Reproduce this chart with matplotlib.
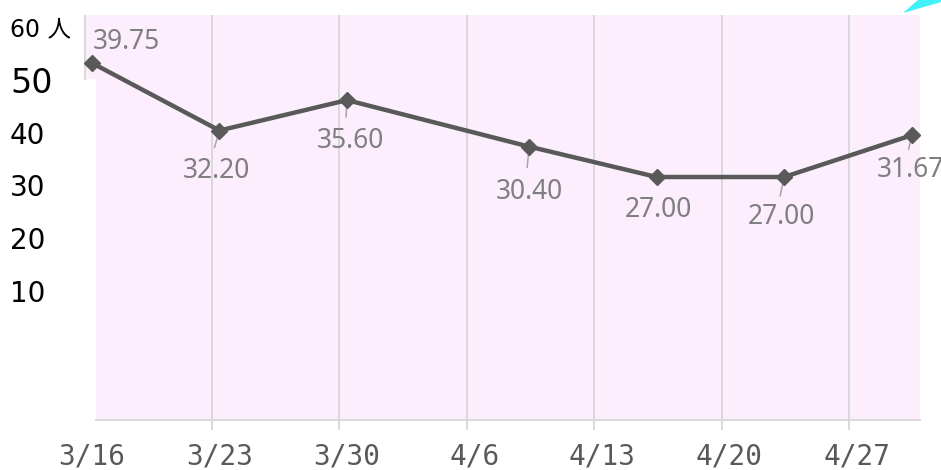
import matplotlib
matplotlib.use('Agg')
import matplotlib.pyplot as plt
from matplotlib.patches import Polygon

# ---------------- data ----------------
x_tick_labels = ['3/16', '3/23', '3/30', '4/6', '4/13', '4/20', '4/27']
x_tick_days = [0, 7, 14, 21, 28, 35, 42]          # days after 3/16
point_days = [0, 7, 14, 24, 31, 38, 45]           # days after 3/16
values = [39.75, 32.20, 35.60, 30.40, 27.00, 27.00, 31.67]
value_labels = ['39.75', '32.20', '35.60', '30.40', '27.00', '27.00', '31.67']
y_ticks = [10, 20, 30, 40, 50, 60]
y_tick_labels = ['10', '20', '30', '40', '50', '60 人']

# ---------------- style / layout ----------------
W, H = 941, 470
PINK = '#fdeefd'
GRID = '#d9d9d9'
LINE = '#595959'
LABEL = '#7f7f7f'
LEADER = '#a6a6a6'

L, R, T, B = 84, 920, 15, 420          # plot box in pixels
PX0, PX_PER_DAY = 92, 18.214          # x pixel of day 0, pixels per day


def day(px):
    return (px - PX0) / PX_PER_DAY


fig = plt.figure(figsize=(W / 100, H / 100), dpi=100)
fig.patch.set_facecolor('white')
rect = [L / W, 1 - B / H, (R - L) / W, (B - T) / H]

# left value labels (separate scale)
axl = fig.add_axes(rect, frameon=False)
axl.set_xlim(0, 1)
axl.set_ylim(-14.48, 62.33)
axl.set_xticks([])
axl.set_yticks(y_ticks)
axl.set_yticklabels(y_tick_labels)
axl.tick_params(axis='y', length=0, pad=53.3)
ysizes = {'50': 24, '60 人': 17}
for t in axl.get_yticklabels():
    t.set_horizontalalignment('left')
    t.set_color('black')
    t.set_fontsize(ysizes.get(t.get_text(), 20))
    t.set_family(['DejaVu Sans', 'Noto Sans CJK JP'])

# main axes
ax = fig.add_axes(rect)
ax.patch.set_visible(False)
xl = (day(L), day(R))
ax.set_xlim(*xl)
ax.set_ylim(-0.18, 45.12)

# pink plot area (+ small notch at the top-left)
ax.axvspan(day(96), xl[1], color=PINK, lw=0, zorder=0)
ax.axvspan(xl[0], day(96), ymin=(B - 79) / (B - T), ymax=1, color=PINK, lw=0, zorder=0)
ax.axvline(day(84.5), ymin=(B - 79) / (B - T), ymax=1, color=GRID, lw=1.44, zorder=1)

# vertical gridlines & tick marks
grid_pos = [d - 0.412 for d in x_tick_days[1:]]
for g in grid_pos:
    ax.axvline(g, color=GRID, lw=1.44, zorder=1)
ax.set_xticks(grid_pos, minor=True)
ax.tick_params(axis='x', which='minor', length=7.2, width=1.44, color=GRID, direction='out')
ax.set_xticks(x_tick_days)
ax.set_xticklabels(x_tick_labels)
ax.tick_params(axis='x', which='major', length=0, pad=16, labelsize=20, labelcolor=LINE)
for t in ax.get_xticklabels():
    t.set_family('DejaVu Sans Mono')
ax.set_yticks([])

for s in ['top', 'left', 'right']:
    ax.spines[s].set_visible(False)
ax.spines['bottom'].set_color(GRID)
ax.spines['bottom'].set_linewidth(1.44)
ax.spines['bottom'].set_bounds(day(96), xl[1])

# leaders (pixel offsets, y up)
leader_offsets = [None, (-5, -17), (-1, -17), (-2, -21), None, (-4, -19), (-3, -14)]
for d, v, off in zip(point_days, values, leader_offsets):
    if off is None:
        continue
    ax.annotate('', xy=(d, v), xytext=off, textcoords='offset pixels',
                arrowprops=dict(arrowstyle='-', color=LEADER, lw=1.1, shrinkA=0, shrinkB=0),
                zorder=3, annotation_clip=False)

# line
ax.plot(point_days, values, color=LINE, lw=3.2, marker='D', ms=8.5,
        mfc=LINE, mec=LINE, zorder=4, clip_on=False)

# data labels (pixel offsets, y up)
label_offsets = [(1, 21, 'left'), (-3, -40, 'center'), (4, -41, 'center'),
                 (0, -45, 'center'), (2, -33, 'center'), (-2.5, -40, 'center'),
                 (-1, -35, 'center')]
for d, v, txt, (dx, dy, ha) in zip(point_days, values, value_labels, label_offsets):
    ax.annotate(txt, xy=(d, v), xytext=(dx, dy), textcoords='offset pixels',
                ha=ha, va='center', fontsize=19, color=LABEL, family='Noto Sans',
                zorder=5, annotation_clip=False)

# cyan sliver at the top-right corner
fig.add_artist(Polygon([[903 / W, 1 - 13 / H], [918 / W, 1], [941 / W, 1], [941 / W, 1 - 2 / H]],
                       closed=True, transform=fig.transFigure, color='#3ef2f7', lw=0))

fig.savefig('out.png', dpi=100)
